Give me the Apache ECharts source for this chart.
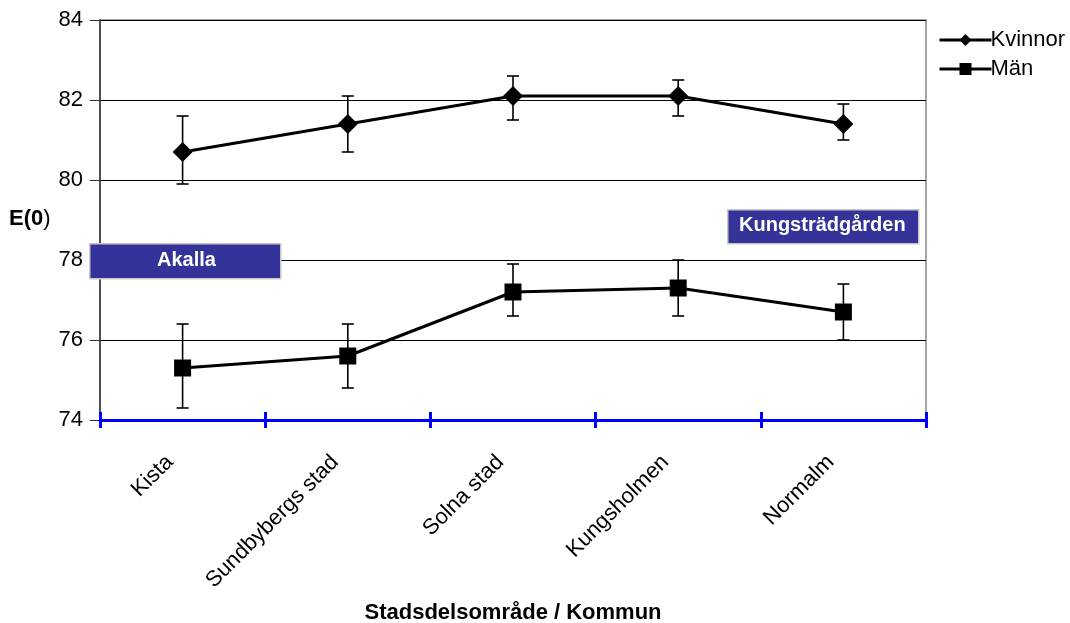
<!DOCTYPE html>
<html><head><meta charset="utf-8">
<script src="https://cdn.jsdelivr.net/npm/echarts@6/dist/echarts.min.js"></script>
<style>html,body{margin:0;padding:0;background:#fff}#c{width:1070px;height:623px}</style>
</head><body><div id="c"></div>
<script>
const categories = ['Kista','Sundbybergs stad','Solna stad','Kungsholmen','Normalm'];
const kvinnor = [80.7, 81.4, 82.1, 82.1, 81.4];
const kvinnorLow = [79.9, 80.7, 81.5, 81.6, 81.0];
const kvinnorHigh = [81.6, 82.1, 82.6, 82.5, 81.9];
const man = [75.3, 75.6, 77.2, 77.3, 76.7];
const manLow = [74.3, 74.8, 76.6, 76.6, 76.0];
const manHigh = [76.4, 76.4, 77.9, 78.0, 77.4];
const yTicks = [74, 76, 78, 80, 82, 84];

const F = 'Liberation Sans, Arial, sans-serif';
const chart = echarts.init(document.getElementById('c'));

function errData(lo, hi){ return categories.map((c,i)=>[i, lo[i], hi[i]]); }
function errRender(params, api){
  const x = api.value(0);
  const lo = api.coord([x, api.value(1)]);
  const hi = api.coord([x, api.value(2)]);
  const w = 6;
  const st = {stroke:'#000', lineWidth:1.6};
  return {type:'group', children:[
    {type:'line', shape:{x1:lo[0],y1:lo[1],x2:hi[0],y2:hi[1]}, style:st},
    {type:'line', shape:{x1:lo[0]-w,y1:lo[1],x2:lo[0]+w,y2:lo[1]}, style:st},
    {type:'line', shape:{x1:hi[0]-w,y1:hi[1],x2:hi[0]+w,y2:hi[1]}, style:st}
  ]};
}

const option = {
  animation:false,
  grid:{left:100, right:144, top:20, bottom:203, containLabel:false, outerBoundsMode:'none',
        show:true, borderColor:'#888', borderWidth:1.5, backgroundColor:'transparent'},
  legend:{
    orient:'vertical', left:933, top:24, itemWidth:52, itemHeight:15, itemGap:7,
    lineStyle:{width:3, color:'#000'},
    textStyle:{fontFamily:F, fontSize:22, color:'#000', padding:[0,0,0,-6]},
    data:['Kvinnor','Män']
  },
  xAxis:[{
    type:'category', data:categories, boundaryGap:true,
    axisLine:{lineStyle:{color:'#0000ff', width:3}},
    axisTick:{show:true, length:8, lineStyle:{color:'#0000ff', width:3}},
    axisLabel:{rotate:45, fontFamily:F, fontSize:22, color:'#000', margin:26, interval:0,
               padding:[0,18,0,0]},
    name:'Stadsdelsområde / Kommun', nameLocation:'middle', nameGap:182,
    nameTextStyle:{fontFamily:F, fontSize:22, fontWeight:'bold', color:'#000'},
    z:5
  },{
    type:'category', data:categories, boundaryGap:true, position:'bottom',
    axisLine:{show:false},
    axisTick:{show:true, inside:true, length:8, lineStyle:{color:'#0000ff', width:3}},
    axisLabel:{show:false}, z:5
  }],
  yAxis:{
    type:'value', min:74, max:84, interval:2,
    axisLine:{show:true, lineStyle:{color:'#333', width:1.5}},
    axisTick:{show:true, length:10, lineStyle:{color:'#333'}},
    axisLabel:{fontFamily:F, fontSize:22, color:'#000', margin:17},
    splitLine:{show:true, lineStyle:{color:'#000', width:1}}
  },
  series:[
    {name:'Kvinnor', type:'line', data:kvinnor, symbol:'diamond', symbolSize:[20,20],
     lineStyle:{color:'#000', width:3}, itemStyle:{color:'#000'}, z:4},
    {name:'Män', type:'line', data:man, symbol:'rect', symbolSize:17,
     lineStyle:{color:'#000', width:3}, itemStyle:{color:'#000'}, z:4},
    {type:'custom', renderItem:errRender, data:errData(kvinnorLow, kvinnorHigh), z:3},
    {type:'custom', renderItem:errRender, data:errData(manLow, manHigh), z:3}
  ],
  graphic:[
    {type:'text', left:9, top:208, z:100, style:{
      text:'{b|E(0}{n|)}', rich:{b:{fontFamily:F, fontSize:22, fontWeight:'bold', fill:'#000'}, n:{fontFamily:F, fontSize:22, fill:'#000'}}}},
    {type:'rect', left:89, top:243, z:100, shape:{x:0,y:0,width:191,height:35}, style:{fill:'#333399', stroke:'#c8c8c8', lineWidth:1.5}},
    {type:'text', left:157, top:250, z:101, style:{text:'Akalla', fill:'#fff', font:'bold 20px '+F}},
    {type:'rect', left:727, top:209, z:100, shape:{x:0,y:0,width:191,height:34}, style:{fill:'#333399', stroke:'#c8c8c8', lineWidth:1.5}},
    {type:'text', left:739, top:215, z:101, style:{text:'Kungsträdgården', fill:'#fff', font:'bold 20px '+F}}
  ]
};
chart.setOption(option);
</script></body></html>
